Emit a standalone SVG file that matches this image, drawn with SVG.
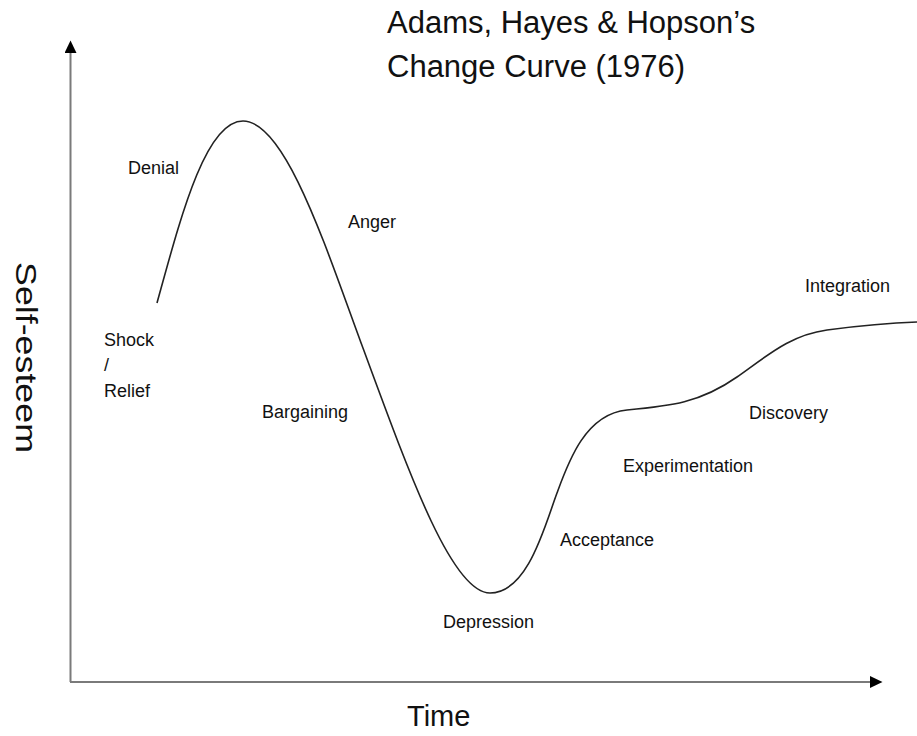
<svg xmlns="http://www.w3.org/2000/svg" width="917" height="736" viewBox="0 0 917 736">
<style>
text{font-family:"Liberation Sans",Arial,sans-serif;fill:#111}
.lbl{font-size:18px}
.title{font-size:31px}
.axt{font-size:29px}
.axis{stroke:#7a7a7a;stroke-width:2;fill:none}
.curve{stroke:#222;stroke-width:1.6;fill:none}
</style>
<defs>
<marker id="ah" markerUnits="userSpaceOnUse" markerWidth="13" markerHeight="12" refX="0" refY="6" orient="auto">
<path d="M0,0 L12.5,6 L0,12 z" fill="#000"/>
</marker>
</defs>
<rect width="917" height="736" fill="#fff"/>
<g id="title">
<text class="title" x="387" y="33">Adams, Hayes &amp; Hopson’s</text>
<text class="title" x="387" y="77">Change Curve (1976)</text>
</g>
<g id="connectors">
<line class="axis" x1="70.5" y1="682" x2="70.5" y2="53" marker-end="url(#ah)"/>
<line class="axis" x1="70" y1="682" x2="870" y2="682" marker-end="url(#ah)"/>
<path id="curve" class="curve" d="M157,303 C180,220 205,121 243,121 C285,121 325,245 360,340 C410,476 452,593 490,593 C528,593 545,525 557,493 C568,463 585,414 627,410 C670,406 700,403 737,377 C767,356 790,335 827,330 C857,326 887,323 917,322"/>
</g>
<g id="axis-labels">
<text class="axt" x="407" y="726">Time</text>
<text class="axt" transform="translate(16,262) rotate(90)" textLength="191" lengthAdjust="spacingAndGlyphs">Self-esteem</text>
</g>
<g id="stage-shock"><text class="lbl" x="104" y="346">Shock</text><text class="lbl" x="104" y="371">/</text><text class="lbl" x="104" y="397">Relief</text></g>
<g id="stage-denial"><text class="lbl" x="128" y="174">Denial</text></g>
<g id="stage-anger"><text class="lbl" x="348" y="228">Anger</text></g>
<g id="stage-bargaining"><text class="lbl" x="262" y="418">Bargaining</text></g>
<g id="stage-depression"><text class="lbl" x="443" y="628">Depression</text></g>
<g id="stage-acceptance"><text class="lbl" x="560" y="546">Acceptance</text></g>
<g id="stage-experimentation"><text class="lbl" x="623" y="472">Experimentation</text></g>
<g id="stage-discovery"><text class="lbl" x="749" y="419">Discovery</text></g>
<g id="stage-integration"><text class="lbl" x="805" y="292">Integration</text></g>
</svg>
